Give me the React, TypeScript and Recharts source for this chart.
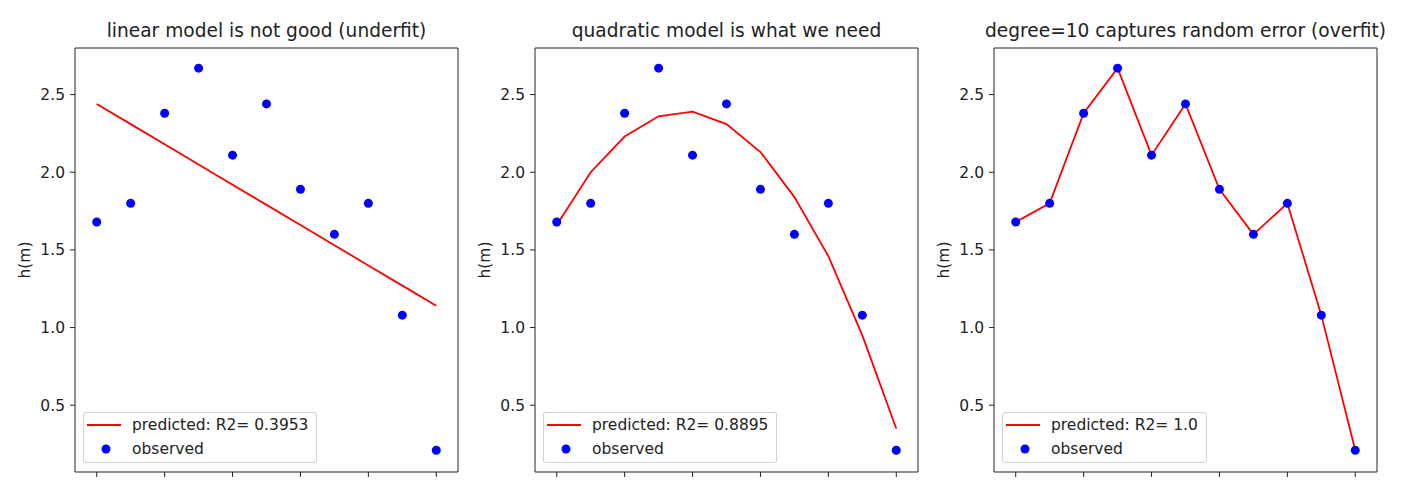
import React from "react"
import {
  ComposedChart,
  Line,
  Scatter,
  XAxis,
  YAxis,
  Legend,
  ReferenceArea,
  Label,
} from "recharts"

const xIdx      = [0, 1, 2, 3, 4, 5, 6, 7, 8, 9, 10]
const observed  = [1.68, 1.80, 2.38, 2.67, 2.11, 2.44, 1.89, 1.60, 1.80, 1.08, 0.21]
const linearFit = [2.44, 2.31, 2.18, 2.05, 1.92, 1.79, 1.66, 1.53, 1.40, 1.27, 1.14]
const quadFit   = [1.66, 2.00, 2.23, 2.36, 2.39, 2.31, 2.13, 1.84, 1.46, 0.95, 0.35]
const deg10Fit  = [1.68, 1.80, 2.38, 2.67, 2.11, 2.44, 1.89, 1.60, 1.80, 1.08, 0.21]

const titles = [
  "linear model is not good (underfit)",
  "quadratic model is what we need",
  "degree=10 captures random error (overfit)",
]
const r2Labels = ["0.3953", "0.8895", "1.0"]
const xTicks = [0, 2, 4, 6, 8, 10]
const yTicks = [0.5, 1.0, 1.5, 2.0, 2.5]

const X_DOMAIN: [number, number] = [-0.64, 10.64]
const Y_DOMAIN: [number, number] = [0.07, 2.8]

const FONT = "'DejaVu Sans', Verdana, sans-serif"
const INK = "#222"
const RED = "#ff0000"
const BLUE = "#0000ff"
const SMALL = 15.5
const BIG = 18.6

const CHART_W = 460
const CHART_H = 480
const AXIS_W = 75

function dotShape(props: any) {
  const { cx, cy } = props
  if (cx == null || cy == null) return <g />
  return <circle cx={cx} cy={cy} r={4.5} fill={BLUE} />
}

function LegendBox({ r2 }: { r2: string }) {
  const row: React.CSSProperties = { display: "flex", alignItems: "center", height: 24 }
  return (
    <div
      style={{
        border: "1px solid #d0d0d0",
        borderRadius: 3,
        background: "rgba(255,255,255,0.8)",
        padding: "0 8px 1px 3px",
        fontFamily: FONT,
        fontSize: SMALL,
        color: INK,
        whiteSpace: "nowrap",
      }}
    >
      <div style={row}>
        <svg width={34} height={10} style={{ display: "block" }}>
          <line x1={0} y1={5} x2={34} y2={5} stroke={RED} strokeWidth={2} />
        </svg>
        <span style={{ marginLeft: 11 }}>predicted: R2= {r2}</span>
      </div>
      <div style={row}>
        <svg width={34} height={10} style={{ display: "block" }}>
          <circle cx={19} cy={5} r={4.5} fill={BLUE} />
        </svg>
        <span style={{ marginLeft: 11 }}>observed</span>
      </div>
    </div>
  )
}

function YLabel(props: any) {
  const { viewBox } = props
  const x = viewBox.x + 25
  const y = viewBox.y + viewBox.height / 2
  return (
    <text
      x={x}
      y={y}
      transform={`rotate(-90, ${x}, ${y})`}
      textAnchor="middle"
      dominantBaseline="central"
      fontFamily={FONT}
      fontSize={SMALL}
      fill={INK}
    >
      h(m)
    </text>
  )
}

function Panel({ title, fit, r2, left }: { title: string; fit: number[]; r2: string; left: number }) {
  const rows = xIdx.map((x, i) => ({ x, observed: observed[i], predicted: fit[i] }))
  return (
    <div style={{ position: "absolute", left, top: 0, width: CHART_W, height: CHART_H }}>
      <div
        style={{
          position: "absolute",
          left: AXIS_W - 40,
          width: CHART_W - AXIS_W - 2 + 80,
          top: 20,
          height: 22,
          lineHeight: "22px",
          textAlign: "center",
          fontFamily: FONT,
          fontSize: BIG,
          color: INK,
          whiteSpace: "nowrap",
          zIndex: 2,
        }}
      >
        {title}
      </div>
      <ComposedChart
        width={CHART_W}
        height={CHART_H}
        data={rows}
        margin={{ top: 48, right: 2, bottom: 0, left: 0 }}
      >
        <XAxis
          dataKey="x"
          type="number"
          domain={X_DOMAIN}
          ticks={xTicks}
          tickFormatter={() => ""}
          axisLine={false}
          tickLine={{ stroke: INK }}
          tickSize={5}
          height={8}
          allowDataOverflow
        />
        <YAxis
          type="number"
          domain={Y_DOMAIN}
          ticks={yTicks}
          tickFormatter={(v: number) => v.toFixed(1)}
          axisLine={false}
          tickLine={{ stroke: INK }}
          tickSize={5}
          tickMargin={5}
          width={AXIS_W}
          tick={{ fontSize: SMALL, fill: INK, fontFamily: FONT }}
          allowDataOverflow
        >
          <Label content={<YLabel />} />
        </YAxis>
        <Scatter dataKey="observed" fill={BLUE} shape={dotShape} isAnimationActive={false} />
        <Line
          dataKey="predicted"
          type="linear"
          stroke={RED}
          strokeWidth={1.8}
          dot={false}
          activeDot={false}
          isAnimationActive={false}
        />
        <ReferenceArea
          x1={X_DOMAIN[0]}
          x2={X_DOMAIN[1]}
          y1={Y_DOMAIN[0]}
          y2={Y_DOMAIN[1]}
          fill="none"
          fillOpacity={0}
          stroke={INK}
          strokeWidth={1}
          ifOverflow="visible"
        />
        <Legend
          layout="vertical"
          align="center"
          verticalAlign="middle"
          wrapperStyle={{ left: AXIS_W + 8, top: 412, width: "auto", height: "auto" }}
          content={() => <LegendBox r2={r2} />}
        />
      </ComposedChart>
    </div>
  )
}

export default function App() {
  const fits = [linearFit, quadFit, deg10Fit]
  const lefts = [0, 460, 919]
  return (
    <div style={{ position: "absolute", left: 0, top: 0, width: 1407, height: 480, background: "#fff" }}>
      {titles.map((t, i) => (
        <Panel key={i} title={t} fit={fits[i]} r2={r2Labels[i]} left={lefts[i]} />
      ))}
    </div>
  )
}
